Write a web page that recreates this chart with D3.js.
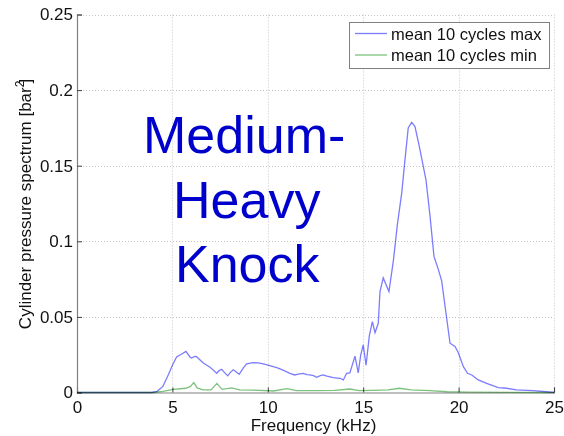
<!DOCTYPE html>
<html>
<head>
<meta charset="utf-8">
<script src="https://cdn.jsdelivr.net/npm/d3@7"></script>
<style>
  html, body { margin: 0; padding: 0; background: #fff; }
  svg { display: block; font-family: "Liberation Sans", Arial, Helvetica, sans-serif; }
</style>
</head>
<body>
<svg id="chart" width="564" height="436"></svg>
<script>
// Spectrum samples: frequency (kHz) and amplitude (bar^2)
const maxFreq = [0, 3.9, 4.2, 4.5, 4.8, 5.0, 5.22, 5.49, 5.71, 5.92, 6.0, 6.18, 6.27, 6.45, 6.62, 6.97, 7.15, 7.32, 7.45, 7.58, 7.75, 7.9, 8.05, 8.19, 8.35, 8.5, 8.7, 8.89, 9.24, 9.5, 9.77, 10.1, 10.47, 10.8, 11.16, 11.4, 11.6, 11.86, 12.05, 12.2, 12.4, 12.56, 12.75, 12.9, 13.1, 13.43, 13.78, 13.96, 14.13, 14.3, 14.57, 14.74, 14.87, 15.0, 15.15, 15.32, 15.48, 15.62, 15.79, 15.88, 16.05, 16.35, 16.58, 16.79, 17.02, 17.19, 17.36, 17.54, 17.71, 17.94, 18.29, 18.5, 18.71, 18.94, 19.11, 19.34, 19.55, 19.81, 19.98, 20.25, 20.47, 20.69, 21.03, 21.47, 22.08, 22.52, 23.04, 23.9, 24.6, 25];
const maxVal = [0, 0, 0.0008, 0.004, 0.012, 0.018, 0.0235, 0.0255, 0.0272, 0.0235, 0.0228, 0.0238, 0.0237, 0.0215, 0.0195, 0.0167, 0.0148, 0.0127, 0.0145, 0.0154, 0.013, 0.011, 0.0135, 0.015, 0.0135, 0.012, 0.016, 0.0189, 0.0197, 0.0196, 0.0189, 0.0178, 0.0165, 0.0148, 0.0127, 0.0116, 0.0122, 0.0127, 0.0118, 0.0116, 0.0112, 0.0101, 0.0112, 0.0116, 0.0108, 0.0098, 0.0094, 0.0083, 0.0127, 0.013, 0.024, 0.013, 0.0248, 0.0315, 0.018, 0.0374, 0.0469, 0.0396, 0.0458, 0.0668, 0.0758, 0.0668, 0.087, 0.111, 0.132, 0.154, 0.175, 0.1787, 0.176, 0.1628, 0.1407, 0.117, 0.09, 0.0813, 0.074, 0.0524, 0.0326, 0.0305, 0.0265, 0.0171, 0.0127, 0.0116, 0.0083, 0.0061, 0.0032, 0.0028, 0.0017, 0.0012, 0.0005, 0];

const minFreq = [0, 4.0, 4.5, 5.05, 5.7, 5.95, 6.12, 6.3, 6.6, 7.03, 7.33, 7.6, 8.1, 8.54, 9.2, 10.3, 11.0, 11.5, 12.5, 13.5, 14.3, 14.8, 15.5, 16.3, 16.9, 17.5, 18.5, 19.4, 20.5, 25];
const minVal = [0, 0, 0.0008, 0.002, 0.0028, 0.004, 0.0065, 0.003, 0.0018, 0.0017, 0.006, 0.0021, 0.0031, 0.0017, 0.0016, 0.001, 0.0026, 0.0012, 0.0012, 0.0014, 0.0023, 0.0012, 0.0014, 0.0018, 0.0028, 0.0018, 0.0012, 0.0005, 0.0002, 0];

const xTicks = [0, 5, 10, 15, 20, 25];
const yTicks = [0, 0.05, 0.1, 0.15, 0.2, 0.25];
const yTickLabels = ["0", "0.05", "0.1", "0.15", "0.2", "0.25"];
const seriesNames = ["mean 10 cycles max", "mean 10 cycles min"];
const seriesColors = ["#7c7cff", "#7cc27c"];
const overlayLines = ["Medium-", "Heavy", "Knock"];

const svg = d3.select("#chart");
const plot = { left: 77, right: 554, top: 14.5, bottom: 392.5 };

const x = d3.scaleLinear().domain([0, 25]).range([plot.left, plot.right]);
const y = d3.scaleLinear().domain([0, 0.25]).range([plot.bottom, plot.top]);

// dotted grid
const grid = svg.append("g").attr("stroke", "#c4c4c4").attr("stroke-width", 1).attr("stroke-dasharray", "1,2");
grid.selectAll("line.v").data(xTicks.slice(1)).join("line")
  .attr("x1", d => Math.round(x(d)) + 0.5).attr("x2", d => Math.round(x(d)) + 0.5)
  .attr("y1", plot.top).attr("y2", plot.bottom);
grid.selectAll("line.h").data(yTicks.slice(1)).join("line")
  .attr("x1", plot.left).attr("x2", plot.right)
  .attr("y1", d => Math.round(y(d)) + 0.5).attr("y2", d => Math.round(y(d)) + 0.5);

// axes
const xAxis = svg.append("g").attr("transform", `translate(0,${plot.bottom})`)
  .call(d3.axisBottom(x).tickValues(xTicks).tickSize(-5).tickPadding(8).tickFormat(d3.format("d")));
const yAxis = svg.append("g").attr("transform", `translate(${plot.left},0)`)
  .call(d3.axisLeft(y).tickValues(yTicks).tickSize(-5).tickPadding(4).tickFormat((d, i) => yTickLabels[i]));
[xAxis, yAxis].forEach(a => {
  a.select(".domain").attr("stroke", "#808080").attr("stroke-width", 1.2);
  a.selectAll(".tick line").attr("stroke", "#404040");
  a.selectAll("text").attr("font-size", 17).attr("fill", "#111")
    .attr("font-family", "Liberation Sans, Arial, sans-serif");
});

// curves
const line = d3.line().x(d => x(d[0])).y(d => y(d[1]));
const maxData = maxFreq.map((f, i) => [f, maxVal[i]]);
const minData = minFreq.map((f, i) => [f, minVal[i]]);
const curves = svg.append("g");
curves.append("path").datum(maxData).attr("d", line)
  .attr("fill", "none").attr("stroke", seriesColors[0]).attr("stroke-width", 1.3)
  .style("mix-blend-mode", "multiply");
curves.append("path").datum(minData).attr("d", line)
  .attr("fill", "none").attr("stroke", seriesColors[1]).attr("stroke-width", 1.3)
  .style("mix-blend-mode", "multiply");

// axis titles
svg.append("text").attr("x", 313.5).attr("y", 431).attr("text-anchor", "middle")
  .attr("font-size", 17).attr("fill", "#111").text("Frequency (kHz)");
const yl = svg.append("text").attr("transform", "translate(31,204) rotate(-90)")
  .attr("text-anchor", "middle").attr("font-size", 17).attr("fill", "#111");
yl.append("tspan").text("Cylinder pressure spectrum [bar");
yl.append("tspan").attr("font-size", 12).attr("dy", -7).text("2");
yl.append("tspan").attr("dy", 7).attr("dx", -3).text("]");

// legend
const lg = svg.append("g");
lg.append("rect").attr("x", 349.5).attr("y", 22.5).attr("width", 200).attr("height", 46)
  .attr("fill", "#fff").attr("stroke", "#808080").attr("stroke-width", 1);
seriesNames.forEach((name, i) => {
  const cy = 33.5 + i * 21.5;
  lg.append("line").attr("x1", 355).attr("x2", 387).attr("y1", cy).attr("y2", cy)
    .attr("stroke", seriesColors[i]).attr("stroke-width", 1.3);
  lg.append("text").attr("x", 391).attr("y", cy + 6).attr("font-size", 16.5)
    .attr("fill", "#111").text(name);
});

// overlay caption
const capX = [143, 173, 175];
const capY = [153, 218, 282];
svg.append("g").selectAll("text").data(overlayLines).join("text")
  .attr("x", (d, i) => capX[i]).attr("y", (d, i) => capY[i])
  .attr("font-size", 52).attr("fill", "#0000cc").text(d => d);
</script>
</body>
</html>
